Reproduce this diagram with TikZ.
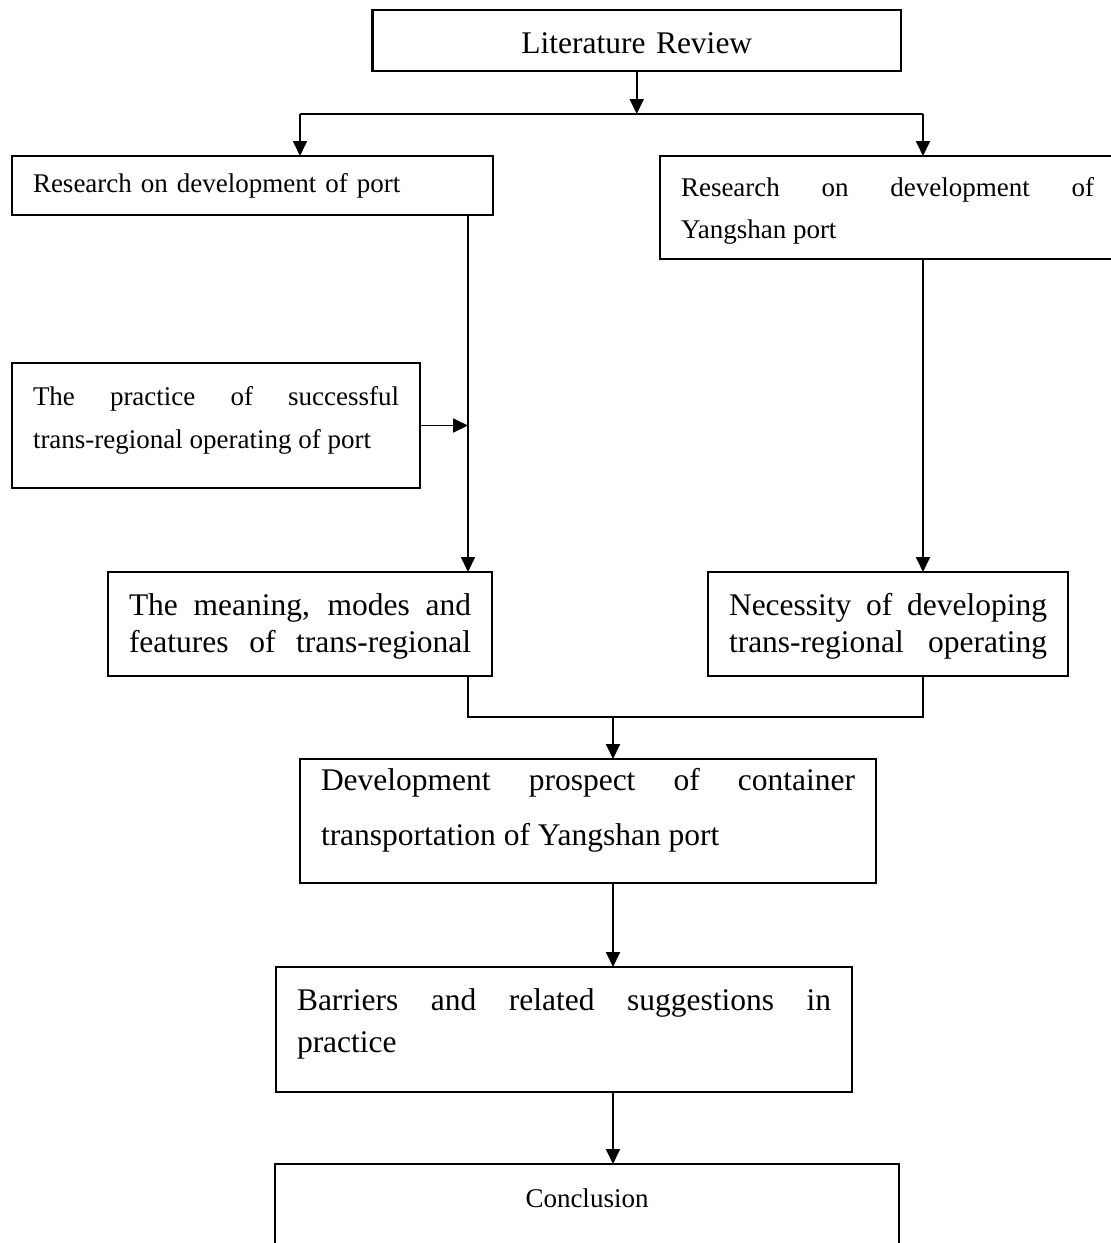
\documentclass[tikz,border=0pt]{standalone}
\usepackage{fontspec}
\setmainfont{Liberation Serif}
\usepackage{tikz}
\usetikzlibrary{positioning,arrows.meta,calc}

\newcommand{\smalltxt}[1]{\fontsize{27}{#1}\selectfont}
\newcommand{\bigtxt}[1]{\fontsize{31.5}{#1}\selectfont}

\tikzset{
    box/.style={draw=black, line width=2.2pt, anchor=north west, inner xsep=21pt, inner ysep=0pt, outer sep=0pt, align=justify},
    link/.style={line width=1.8pt, draw=black},
}

\begin{document}
\begin{tikzpicture}[x=1pt, y=-1pt, >={Triangle[length=15pt, width=14pt]}]
    \useasboundingbox (0,0) rectangle (1111,1243);
    \clip (0,0) rectangle (1111,1243);
    \fill[white] (0,0) rectangle (1111,1243);

    % Top box
    \node[box, align=center, text width=486.5pt, text height=43pt, text depth=18pt, font=\bigtxt{37}] (lit) at (372.5,10) {Literature Review};

    % Research boxes
    \node[box, align=left, text width=439pt, text height=36pt, text depth=23pt, font=\smalltxt{40}] (resA) at (12,156) {Research on development of port};
    \node[box, text width=413pt, text height=40pt, text depth=63pt, font=\smalltxt{42}] (resB) at (660,156) {Research on development of\linebreak Yangshan port};

    % Practice box (left)
    \node[box, text width=366pt, text height=42pt, text depth=83pt, font=\smalltxt{43}] (prac) at (12,363) {The practice of successful\linebreak trans-regional operating of port};

    % Middle row
    \node[box, text width=342pt, text height=43pt, text depth=61pt, font=\bigtxt{37}] (mean) at (108,572) {The meaning, modes and\linebreak features of trans-regional\parfillskip=0pt\par};
    \node[box, text width=318pt, text height=43pt, text depth=61pt, font=\bigtxt{37}] (neces) at (708,572) {Necessity of developing\linebreak trans-regional operating\parfillskip=0pt\par};

    % Lower chain
    \node[box, text width=534pt, text height=31pt, text depth=93pt, font=\bigtxt{55}] (dev) at (300,759) {Development prospect of container\linebreak transportation of Yangshan port};
    \node[box, text width=534pt, text height=43pt, text depth=82pt, font=\bigtxt{42}] (barr) at (276,967) {Barriers and related suggestions in\linebreak practice};
    \node[box, align=center, text width=582pt, text height=43pt, text depth=100pt, font=\smalltxt{40}] (concl) at (275,1164) {Conclusion};

    % Connectors
    \coordinate (split) at (636.75,114);
    \coordinate (splitL) at (300,114);
    \coordinate (splitR) at (923,114);
    \coordinate (busL) at (468,0);
    \coordinate (merge) at (613,717);

    \draw[link, ->] (lit.south) -- (split);
    \draw[link] (splitL) -- (splitR);
    \draw[link, ->] (splitL) -- (splitL |- resA.north);
    \draw[link, ->] (splitR) -- (splitR |- resB.north);

    \draw[link, ->] (busL |- resA.south) -- (busL |- mean.north);
    \draw[link, ->] (prac.east) -- (prac.east -| busL);
    \draw[link, ->] (splitR |- resB.south) -- (splitR |- neces.north);

    \draw[link] (busL |- mean.south) |- (merge) -| (splitR |- neces.south);
    \draw[link, ->] (merge) -- (merge |- dev.north);
    \draw[link, ->] (merge |- dev.south) -- (merge |- barr.north);
    \draw[link, ->] (merge |- barr.south) -- (merge |- concl.north);
\end{tikzpicture}
\end{document}
